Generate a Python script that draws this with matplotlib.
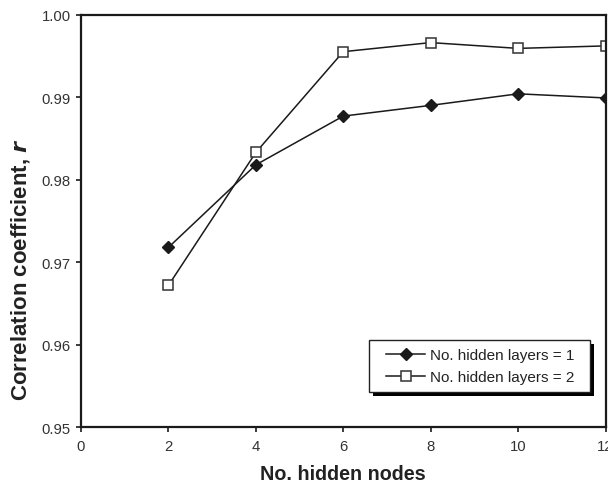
import matplotlib
matplotlib.use("Agg")
import matplotlib.pyplot as plt
from matplotlib.patches import Rectangle
from matplotlib.legend_handler import HandlerLine2D

plt.rcParams['font.family'] = ['Liberation Sans', 'DejaVu Sans']

hidden_nodes = [2, 4, 6, 8, 10, 12]
r_layers1 = [0.9718, 0.9818, 0.9877, 0.9890, 0.9904, 0.9899]
r_layers2 = [0.9672, 0.9833, 0.9955, 0.9966, 0.9959, 0.9962]
labels = ["No. hidden layers = 1", "No. hidden layers = 2"]
x_ticks = [0, 2, 4, 6, 8, 10, 12]
y_ticks = [0.95, 0.96, 0.97, 0.98, 0.99, 1.00]

fig = plt.figure(figsize=(6.08, 4.85), dpi=100)
ax = fig.add_axes([0.1332, 0.1165, 0.8627, 0.8515])

line_color = '#1a1a1a'
ax.plot(hidden_nodes, r_layers1, color=line_color, lw=1.1, marker='D', markersize=6,
        markerfacecolor=line_color, markeredgecolor=line_color, label=labels[0])
ax.plot(hidden_nodes, r_layers2, color=line_color, lw=1.1, marker='s', markersize=6.5,
        markerfacecolor='white', markeredgecolor='#333333', markeredgewidth=1.1, label=labels[1])

ax.set_xlim(0, 12)
ax.set_ylim(0.95, 1.00)
ax.set_xticks(x_ticks)
ax.set_yticks(y_ticks)
ax.set_xticklabels([str(t) for t in x_ticks])
ax.set_yticklabels([f"{t:.2f}" for t in y_ticks])
ax.tick_params(direction='out', length=3.5, width=1.2, labelsize=10.7, colors='#1a1a1a',
               labelcolor='#333333', top=False, right=False)
ax.tick_params(axis='x', pad=5)
ax.tick_params(axis='y', pad=4)

for s in ax.spines.values():
    s.set_linewidth(1.6)
    s.set_color('#1a1a1a')

ax.set_xlabel("No. hidden nodes", fontsize=14.2, fontweight='bold', color='#222222', labelpad=8)
ax.set_ylabel("Correlation coefficient, $\\mathbfit{r}$", fontsize=16, fontweight='bold',
              color='#222222')
ax.yaxis.set_label_coords(-0.093, 0.385)

hm = {ln: HandlerLine2D(xpad=0.65) for ln in ax.get_lines()}
leg = ax.legend(loc='lower right', bbox_to_anchor=(0.94, 0.105), fontsize=11,
                frameon=False, borderaxespad=0, handler_map=hm,
                handlelength=3.2, handletextpad=0.3, borderpad=0.0, labelspacing=0.5)
leg.set_zorder(6)
for t in leg.get_texts():
    t.set_color('#222222')

# legend frame with solid black shadow (Excel style)
fig.canvas.draw()
bb = leg.get_window_extent()
inv = ax.transAxes.inverted()
padx_l, padx_r, pady, off = 7, 16, 8, 4
x0, y0 = bb.x0 - padx_l, bb.y0 - pady
x1, y1 = bb.x1 + padx_r, bb.y1 + pady
(ax0, ay0), (ax1, ay1) = inv.transform([(x0, y0), (x1, y1)])
(sx0, sy0), (sx1, sy1) = inv.transform([(x0 + off, y0 - off), (x1 + off, y1 - off)])
shadow = Rectangle((sx0, sy0), sx1 - sx0, sy1 - sy0, transform=ax.transAxes,
                   facecolor='black', edgecolor='black', lw=0, zorder=4, clip_on=False)
frame = Rectangle((ax0, ay0), ax1 - ax0, ay1 - ay0, transform=ax.transAxes,
                  facecolor='white', edgecolor='#222222', lw=1.0, zorder=4.5, clip_on=False)
ax.add_patch(shadow)
ax.add_patch(frame)

fig.savefig("out.png", dpi=100)
